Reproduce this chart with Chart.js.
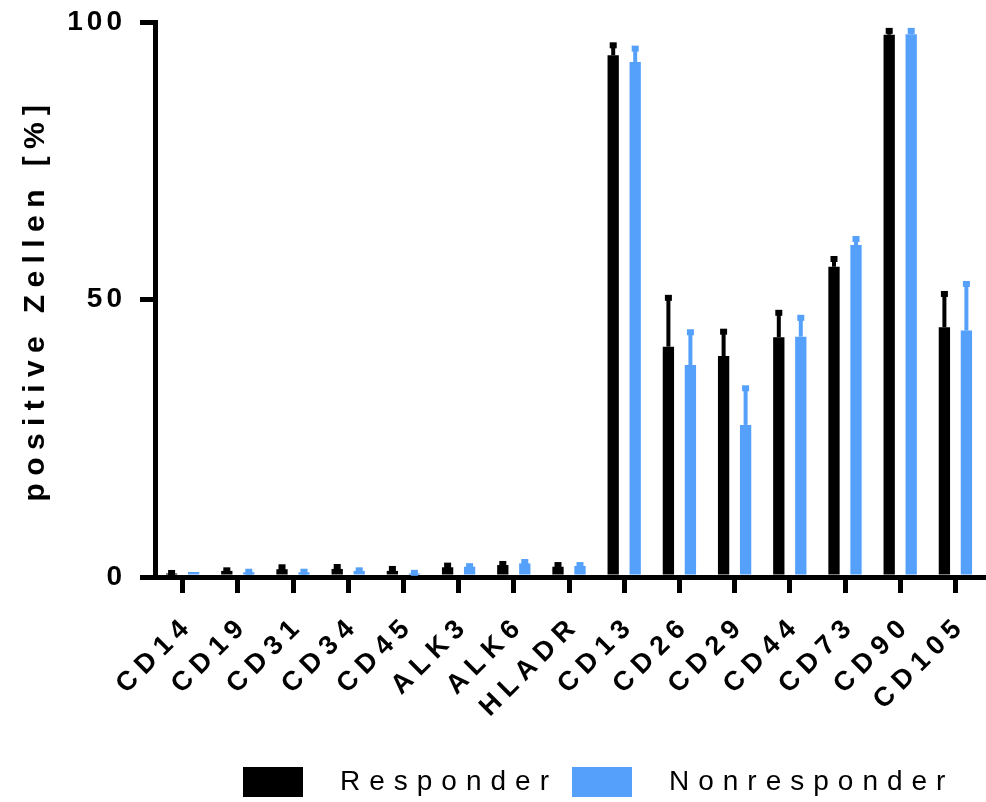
<!DOCTYPE html>
<html>
<head>
<meta charset="utf-8">
<script src="https://cdn.jsdelivr.net/npm/chart.js@4.4.1/dist/chart.umd.min.js"></script>
<style>
  html, body { margin: 0; padding: 0; background: #ffffff; }
  canvas { display: block; }
</style>
</head>
<body>
<canvas id="chart" width="986" height="802"></canvas>
<script>
// Surface markers measured by flow cytometry
const markers = ['CD14', 'CD19', 'CD31', 'CD34', 'CD45', 'ALK3', 'ALK6', 'HLADR',
                 'CD13', 'CD26', 'CD29', 'CD44', 'CD73', 'CD90', 'CD105'];

// Mean share of positive cells (%) and standard deviation per group
const responder      = [0.63, 1.1, 1.4, 1.45, 1.1, 1.75, 2.15, 1.85, 94.0, 41.5, 39.8, 43.2, 55.9, 97.7, 45.0];
const responderSD    = [0.1, 0.1, 0.35, 0.35, 0.35, 0.3, 0.2, 0.3, 1.8, 8.8, 4.4, 4.4, 1.4, 0.7, 6.0];
const nonresponder   = [0.9, 0.85, 0.85, 1.1, 0.65, 1.85, 2.45, 2.0, 92.8, 38.2, 27.4, 43.3, 59.8, 97.8, 44.4];
const nonresponderSD = [0, 0.1, 0.1, 0.1, 0.1, 0.1, 0.25, 0.15, 2.4, 5.9, 6.6, 3.4, 1.1, 0.6, 8.4];

const yTickValues = [0, 50, 100];
const seriesNames  = ['Responder', 'Nonresponder'];
const seriesColors = ['#000000', '#55a0fb'];
const yTitle = 'positive Zellen [%]';

const FAMILY = "'Liberation Sans', Arial, Helvetica, sans-serif";

// Text styles: size, weight and tracking (extra px between letters)
const fontYTicks  = { size: 28, weight: 'bold',   tracking: 4 };
const fontXTicks  = { size: 27, weight: 'bold',   tracking: 7 };
const fontTitle   = { size: 30, weight: 'bold',   tracking: 7.4 };
const fontLegend  = { size: 28, weight: 'normal', tracking: 9 };

function chartFont(f) { return { family: FAMILY, size: f.size, weight: f.weight }; }

// Canvas font strings carry no tracking, so apply it whenever a font is set
const trackingTable = {};
[fontYTicks, fontXTicks, fontTitle, fontLegend].forEach(f => {
  trackingTable[f.weight + '|' + f.size] = f.tracking;
});
function installTracking(ctx) {
  const desc = Object.getOwnPropertyDescriptor(CanvasRenderingContext2D.prototype, 'font');
  Object.defineProperty(ctx, 'font', {
    configurable: true,
    get() { return desc.get.call(this); },
    set(v) {
      desc.set.call(this, v);
      const m = /(\d+(?:\.\d+)?)px/.exec(v);
      const weight = /bold/.test(v) ? 'bold' : 'normal';
      const t = m ? trackingTable[weight + '|' + Math.round(parseFloat(m[1]))] : undefined;
      this.letterSpacing = (t || 0) + 'px';
    }
  });
}

// Upward SD whiskers with a short cap
const errorBarPlugin = {
  id: 'errorBars',
  afterDatasetsDraw(chart) {
    const ctx = chart.ctx;
    const yScale = chart.scales.y;
    chart.data.datasets.forEach((ds, i) => {
      const meta = chart.getDatasetMeta(i);
      meta.data.forEach((bar, j) => {
        const sd = ds.errors[j];
        if (!sd) return;
        const top = yScale.getPixelForValue(ds.data[j] + sd);
        ctx.save();
        ctx.fillStyle = ds.backgroundColor;
        ctx.fillRect(bar.x - 2, top, 4, bar.y - top);
        ctx.fillRect(bar.x - 3.5, top - 3, 7, 6);
        ctx.restore();
      });
    });
  }
};

// Legend row placement under the plot
const LEGEND_LEFT = 243;
const LEGEND_TOP = 754;
const legendPlacePlugin = {
  id: 'legendPlace',
  afterLayout(chart) {
    const lg = chart.legend;
    if (!lg) return;
    const dx = LEGEND_LEFT - lg.options.labels.padding - lg.left;
    lg.left += dx; lg.right += dx;
    const dy = LEGEND_TOP - lg.top;
    lg.top += dy; lg.bottom += dy;
  }
};

// Legend swatch: filled block followed by blank space before the label
function swatch(color) {
  const c = document.createElement('canvas');
  c.width = 83; c.height = 30;
  const g = c.getContext('2d');
  g.fillStyle = color;
  g.fillRect(0, 0, 60, 30);
  return c;
}

const ctx = document.getElementById('chart').getContext('2d');
installTracking(ctx);

new Chart(ctx, {
  type: 'bar',
  data: {
    labels: markers,
    datasets: [
      { label: seriesNames[0], data: responder, errors: responderSD,
        backgroundColor: seriesColors[0], borderWidth: 0,
        categoryPercentage: 0.797, barPercentage: 0.514 },
      { label: seriesNames[1], data: nonresponder, errors: nonresponderSD,
        backgroundColor: seriesColors[1], borderWidth: 0,
        categoryPercentage: 0.797, barPercentage: 0.514 }
    ]
  },
  options: {
    responsive: false,
    animation: false,
    devicePixelRatio: 1,
    layout: { padding: { top: 22, right: 3, left: 0, bottom: 0 } },
    plugins: {
      tooltip: { enabled: false },
      legend: {
        position: 'bottom',
        align: 'start',
        labels: {
          usePointStyle: true,
          pointStyleWidth: 83,
          boxHeight: 30,
          padding: 14,
          color: '#000000',
          font: chartFont(fontLegend),
          generateLabels(chart) {
            return chart.data.datasets.map((ds, i) => ({
              text: ds.label,
              fillStyle: ds.backgroundColor,
              strokeStyle: ds.backgroundColor,
              lineWidth: 0,
              pointStyle: swatch(ds.backgroundColor),
              hidden: false,
              datasetIndex: i,
              fontColor: '#000000'
            }));
          }
        }
      }
    },
    scales: {
      x: {
        z: 1,
        offset: true,
        grid: {
          offset: false,
          display: true,
          drawOnChartArea: false,
          drawTicks: true,
          tickLength: 16,
          tickWidth: 5,
          tickColor: '#000000',
          color: '#000000',
          lineWidth: 5
        },
        border: { display: true, color: '#000000', width: 5 },
        ticks: {
          autoSkip: false,
          minRotation: 45,
          maxRotation: 45,
          padding: 16,
          labelOffset: 7,
          color: '#000000',
          font: chartFont(fontXTicks)
        },
        afterFit(scale) {
          scale.height = 173;
          scale.paddingLeft = 0;
          scale.paddingRight = 0;
        }
      },
      y: {
        z: 1,
        min: 0,
        max: 100,
        afterBuildTicks(scale) { scale.ticks = yTickValues.map(v => ({ value: v })); },
        grid: {
          display: true,
          drawOnChartArea: false,
          drawTicks: true,
          tickLength: 15,
          tickWidth: 5,
          tickColor: '#000000',
          color: '#000000',
          lineWidth: 5
        },
        border: { display: true, color: '#000000', width: 5 },
        ticks: {
          padding: 14,
          color: '#000000',
          font: chartFont(fontYTicks)
        },
        title: {
          display: true,
          text: yTitle,
          color: '#000000',
          padding: { top: 18, bottom: 0 },
          font: chartFont(fontTitle)
        },
        afterFit(scale) {
          scale.width = 155;
          scale.paddingTop = 0;
          scale.paddingBottom = 0;
        }
      }
    }
  },
  plugins: [errorBarPlugin, legendPlacePlugin]
});
</script>
</body>
</html>
